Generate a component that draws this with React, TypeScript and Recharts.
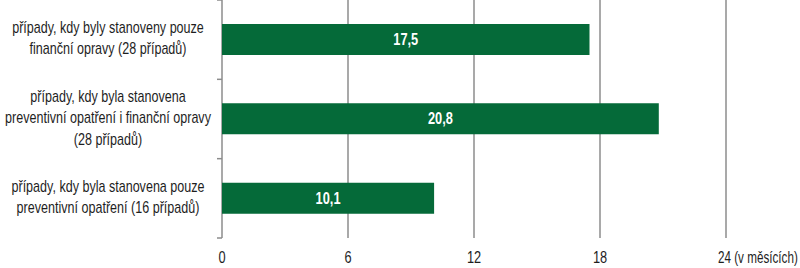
import { BarChart, Bar, XAxis, YAxis, CartesianGrid, LabelList } from "recharts";

// Category labels, one line per entry (the chart wraps them by hand)
const categoryLines = [
  ["případy, kdy byly stanoveny pouze", "finanční opravy (28 případů)"],
  ["případy, kdy byla stanovena", "preventivní opatření i finanční opravy", "(28 případů)"],
  ["případy, kdy byla stanovena pouze", "preventivní opatření (16 případů)"],
];
// Average duration in months
const values = [17.5, 20.8, 10.1];
const xTicks = [0, 6, 12, 18, 24];
const unitLabel = "(v měsících)";

const WIDTH = 800;
const HEIGHT = 268;
const X_AXIS_H = 30;
const PLOT_H = HEIGHT - X_AXIS_H;
const BAND = PLOT_H / categoryLines.length;
const AXIS_X = 222;

const FONT = '"Liberation Sans", Arial, sans-serif';
// no condensed face installed, so squeeze the glyphs horizontally
const SX = 0.8;
const GREEN = "#056a39";
const GRID = "#8c8c8c";
const TEXT = "#1e1e1e";

const data = categoryLines.map((lines, i) => ({
  name: lines.join("\n"),
  value: values[i],
}));

const LABEL_CENTER_X = 108;

function Squeezed({
  x,
  y,
  sx = SX,
  anchor = "middle",
  children,
  ...rest
}: {
  x: number;
  y: number;
  sx?: number;
  anchor?: "start" | "middle" | "end";
  children: React.ReactNode;
  [k: string]: unknown;
}) {
  return (
    <g transform={`translate(${x},${y}) scale(${sx},1)`}>
      <text x={0} y={0} textAnchor={anchor} dominantBaseline="central" fontFamily={FONT} {...rest}>
        {children}
      </text>
    </g>
  );
}

function CategoryTick({ y, index, payload }: { y?: number; index?: number; payload?: { value: string } }) {
  if (y == null || !payload) return null;
  const lines = String(payload.value).split("\n");
  const lh = 21.5;
  const top = y - 1.5 - ((lines.length - 1) * lh) / 2;
  const isLast = index === categoryLines.length - 1;
  return (
    <g>
      {lines.map((l, i) => (
        <Squeezed key={i} x={LABEL_CENTER_X} y={top + i * lh} sx={0.785} fill={TEXT} fontSize={16}>
          {l}
        </Squeezed>
      ))}
      <line x1={AXIS_X - 5} x2={AXIS_X} y1={y - BAND / 2} y2={y - BAND / 2} stroke={GRID} strokeWidth={1.5} />
      {isLast && (
        <line x1={AXIS_X - 5} x2={AXIS_X} y1={y + BAND / 2} y2={y + BAND / 2} stroke={GRID} strokeWidth={1.5} />
      )}
    </g>
  );
}

function ValueTick({ x, y, payload }: { x?: number; y?: number; payload?: { value: number } }) {
  if (x == null || y == null || !payload) return null;
  const last = payload.value === xTicks[xTicks.length - 1];
  return (
    <Squeezed
      x={last ? x - 8 : x}
      y={y + 11}
      sx={last ? 0.73 : SX}
      anchor={last ? "start" : "middle"}
      fill={TEXT}
      fontSize={16}
    >
      {last ? `${payload.value} ${unitLabel}` : payload.value}
    </Squeezed>
  );
}

function BarValue(props: { x?: number; y?: number; width?: number; height?: number; value?: number }) {
  const { x = 0, y = 0, width = 0, height = 0, value } = props;
  return (
    <Squeezed x={x + width / 2} y={y + height / 2} fill="#fff" fontSize={16} fontWeight="bold">
      {String(value).replace(".", ",")}
    </Squeezed>
  );
}

export default function App() {
  return (
    <div style={{ position: "absolute", left: 0, top: 0, background: "#fff" }}>
      <BarChart
        width={WIDTH}
        height={HEIGHT}
        data={data}
        layout="vertical"
        margin={{ top: 0, right: 74, bottom: 0, left: 0 }}
      >
        <CartesianGrid horizontal={false} stroke={GRID} strokeWidth={1.5} />
        <YAxis
          type="category"
          dataKey="name"
          width={AXIS_X}
          tickLine={false}
          axisLine={false}
          tick={<CategoryTick />}
        />
        <XAxis
          type="number"
          domain={[0, 24]}
          ticks={xTicks}
          height={X_AXIS_H}
          axisLine={false}
          tickLine={false}
          tick={<ValueTick />}
        />
        <Bar dataKey="value" fill={GREEN} barSize={31} isAnimationActive={false}>
          <LabelList dataKey="value" content={<BarValue />} />
        </Bar>
      </BarChart>
    </div>
  );
}
